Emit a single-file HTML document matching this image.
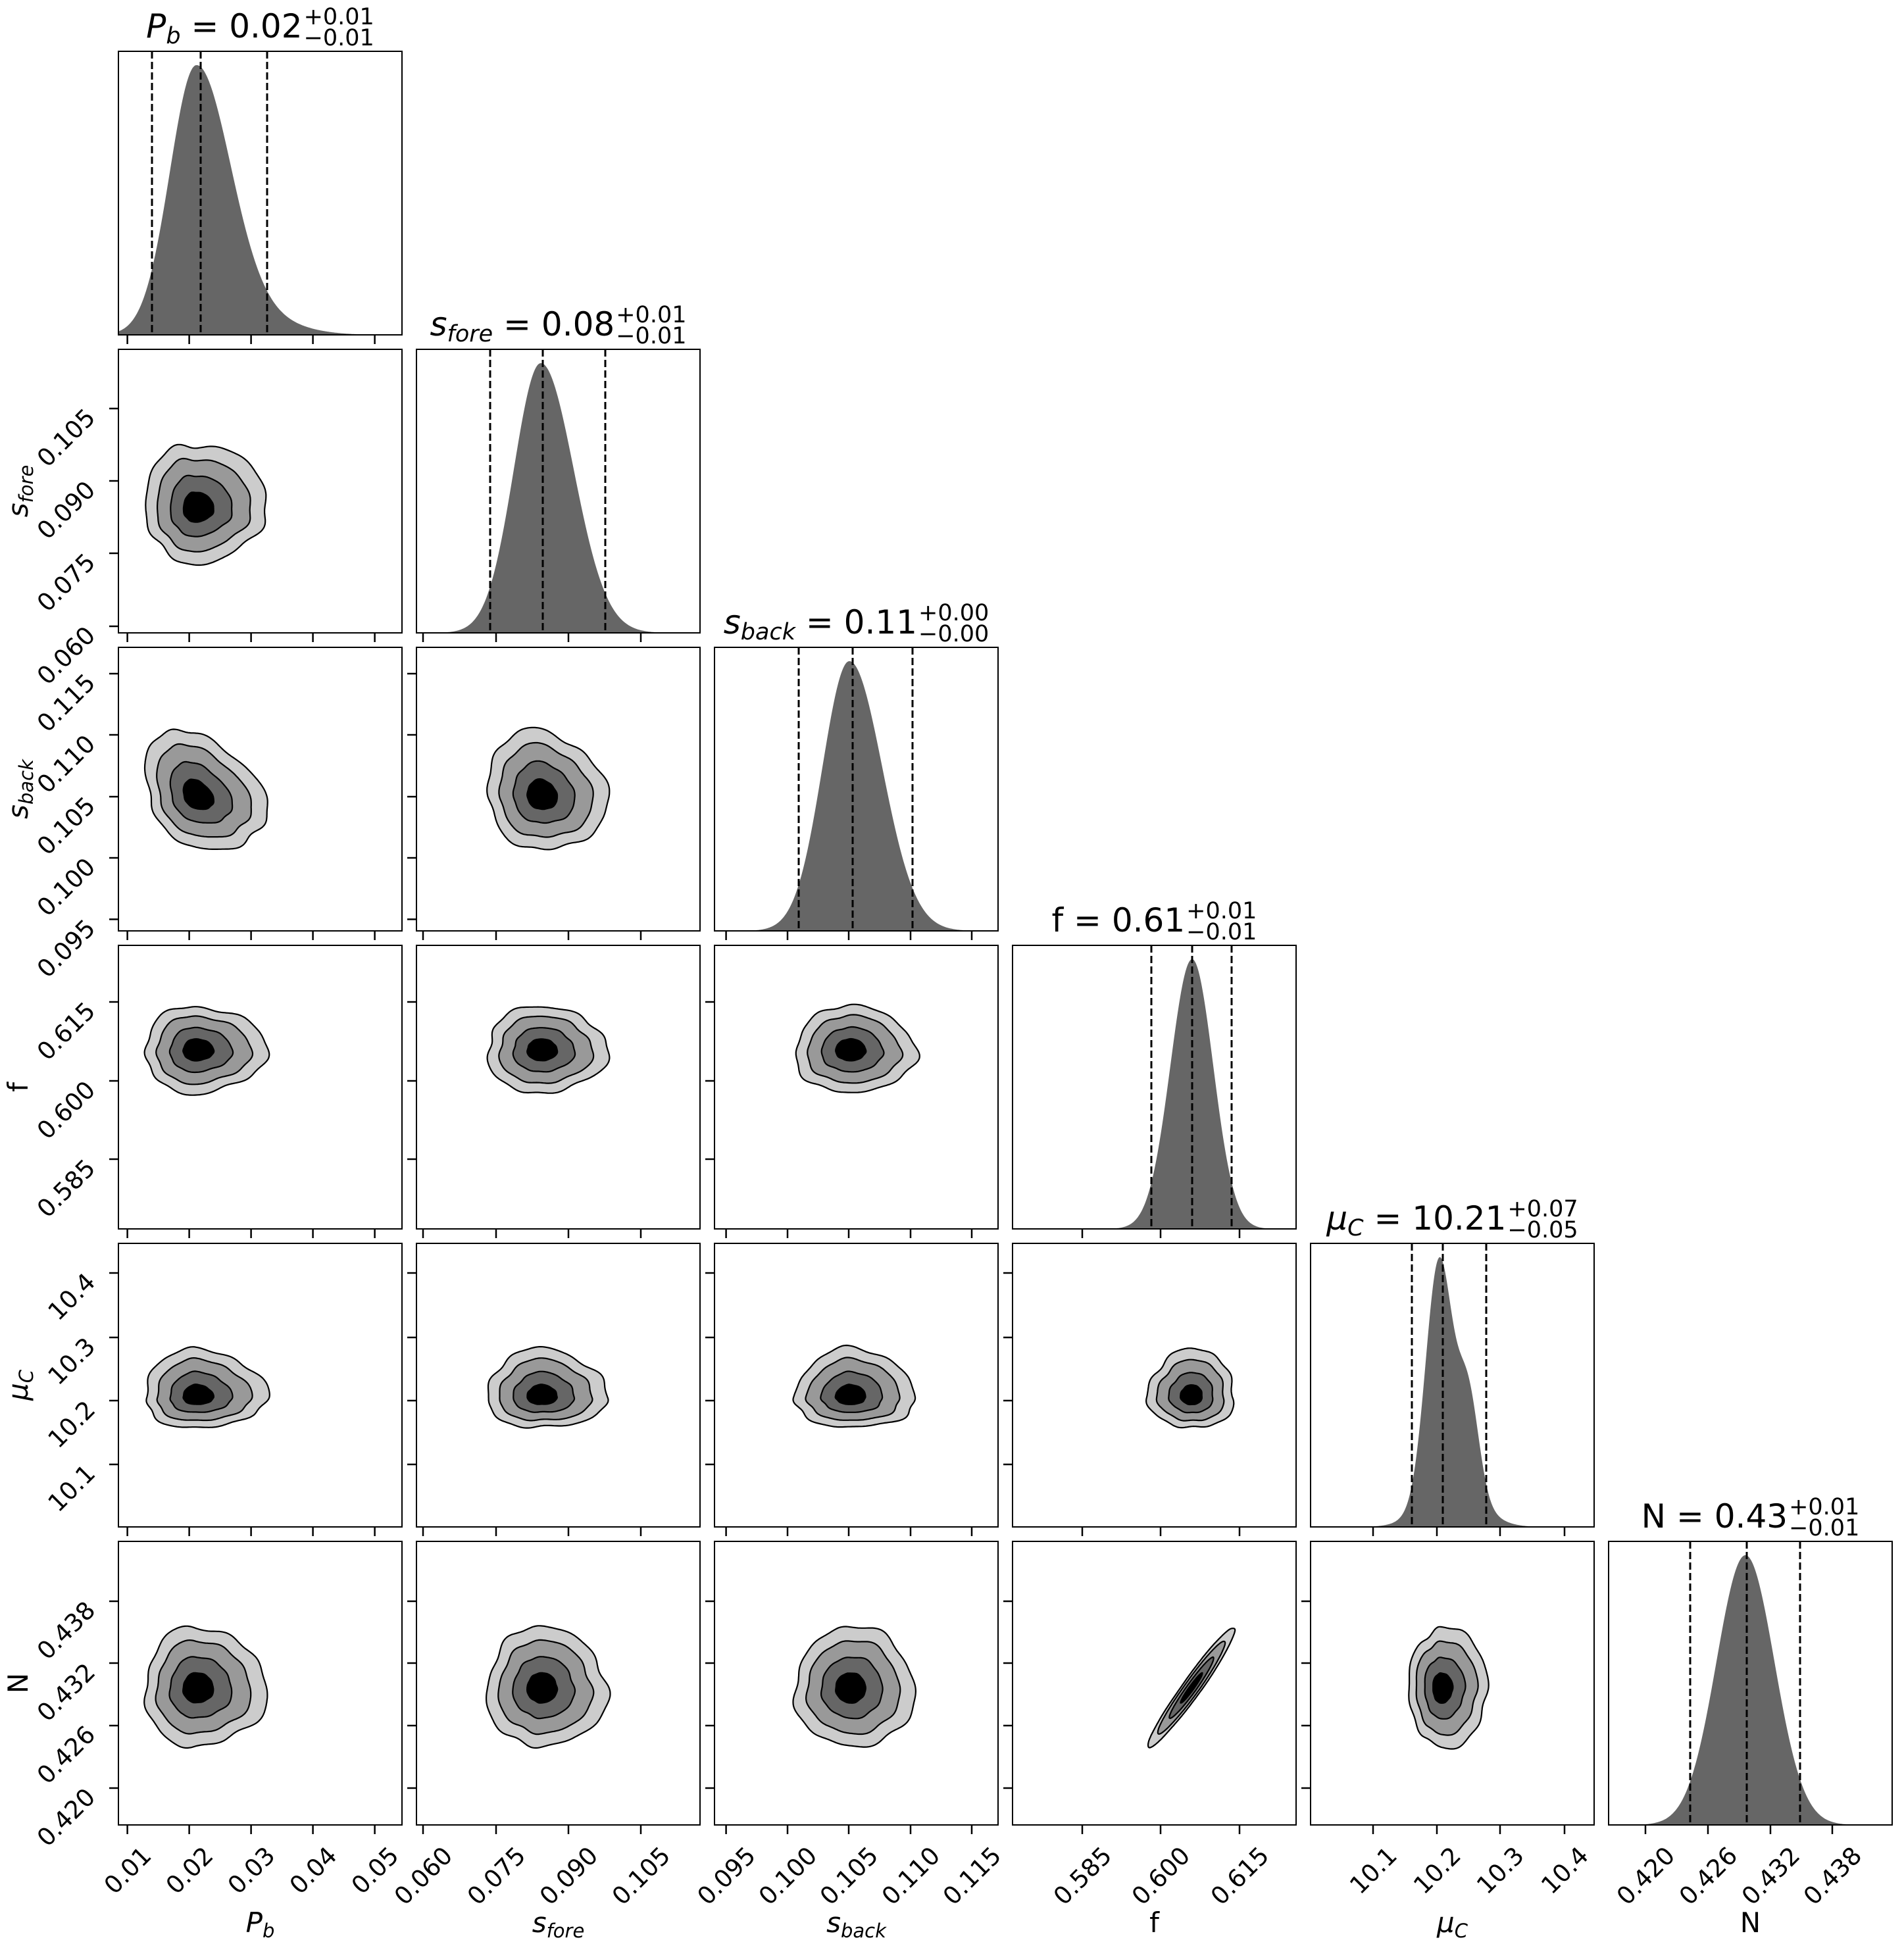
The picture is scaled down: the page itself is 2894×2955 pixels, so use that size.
<!DOCTYPE html>
<html><head><meta charset="utf-8">
<style>
html,body{margin:0;padding:0;background:#fff;}
svg{display:block;font-family:"DejaVu Sans","Liberation Sans",sans-serif;}
</style></head>
<body>
<svg id="s" xmlns="http://www.w3.org/2000/svg" width="2894" height="2955" viewBox="0 0 2894 2955">
<rect x="0" y="0" width="2894" height="2955" fill="#fff"/>
<defs><clipPath id="cp"><rect x="0" y="0" width="431" height="431"/></clipPath></defs>
</svg>
<script>
const NS='http://www.w3.org/2000/svg';
const svg=document.getElementById('s');
function E(t,a,p){const e=document.createElementNS(NS,t);for(const k in a)e.setAttribute(k,a[k]);(p||svg).appendChild(e);return e;}
const S=431,G=453,X0=180,Y0=78;
const cols=[
 {ticks:[[13.6,'0.01'],[107.6,'0.02'],[201.6,'0.03'],[295.6,'0.04'],[389.6,'0.05']],q:[51,125,226],
  comps:[[1,118,40,52],[0.05,215,60,60]],c:[118,39,53],
  main:[['P','i',0],['b','s',0],[' = 0.02','n',0]],sup:'+0.01',sub:'\u22120.01'},
 {ticks:[[10,'0.060'],[121,'0.075'],[231,'0.090'],[341,'0.105']],q:[112,192,287],
  comps:[[1,189,41,50]],c:[189,41,50],
  main:[['s','i',0],['fore','s',0],[' = 0.08','n',0]],sup:'+0.01',sub:'\u22120.01'},
 {ticks:[[17.6,'0.095'],[111,'0.100'],[204,'0.105'],[298,'0.110'],[391,'0.115']],q:[128,210,301],
  comps:[[1,205,41,50]],c:[205,41,50],
  main:[['s','i',0],['back','s',0],[' = 0.11','n',0]],sup:'+0.00',sub:'\u22120.00'},
 {ticks:[[106,'0.585'],[225,'0.600'],[345,'0.615']],q:[211,273,333],
  comps:[[1,273,33,32]],c:[272,33,33],
  main:[['f = 0.61','n',0]],sup:'+0.01',sub:'\u22120.01'},
 {ticks:[[95,'10.1'],[192,'10.2'],[288,'10.3'],[386,'10.4']],q:[154,201,267],
  comps:[[1,195,20,20],[0.42,240,16,16],[0.2,215,40,40]],c:[198,24,36],
  main:[['\u03bc','i',0],['C','s',0],[' = 10.21','n',0]],sup:'+0.07',sub:'\u22120.05'},
 {ticks:[[56,'0.420'],[151,'0.426'],[246,'0.432'],[340,'0.438']],q:[124,210,291],
  comps:[[1,208,44,44]],c:[208,45,46],
  main:[['N = 0.43','n',0]],sup:'+0.01',sub:'\u22120.01'}
];
const rhoM={'5,3':0.965,'2,0':-0.3,'2,1':-0.1};
function hval(c,x){let h=0;for(const [a,m,sl,sr] of c.comps){const s=x<m?sl:sr;h+=a*Math.exp(-0.5*((x-m)/s)**2);}return h;}
function addTspans(t,tokens,fs,sfs,sh){
 let cur=0;
 for(const [txt,kind] of tokens){
  const a={};
  if(kind==='i'){a['font-style']='italic';}
  if(kind==='s'){a['font-style']='italic';a['font-size']=sfs;a.dy=(sh-cur);cur=sh;}
  else {if(cur!==0){a.dy=-cur;cur=0;}}
  const ts=E('tspan',a,t);ts.textContent=txt;
 }
}
const ylab=[null,[['s','i'],['fore','s']],[['s','i'],['back','s']],[['f','n']],[['\u03bc','i'],['C','s']],[['N','n']]];
const xlab=[[['P','i'],['b','s']],[['s','i'],['fore','s']],[['s','i'],['back','s']],[['f','n']],[['\u03bc','i'],['C','s']],[['N','n']]];
const TF=37,LF=42;
function rotLabel(txt,cx,cy){
 const t=E('text',{'font-size':TF,'text-anchor':'middle',transform:`translate(${cx},${cy}) rotate(-45)`,x:0,y:0,dy:'0.36em'});
 t.textContent=txt;return t;
}
function measure(txt){const t=E('text',{'font-size':TF,x:-1000,y:-1000});t.textContent=txt;const L=t.getComputedTextLength();svg.removeChild(t);return L;}
for(let j=0;j<6;j++){
 for(let i=0;i<=j;i++){
  const X=X0+G*i,Y=Y0+G*j;
  const g=E('g',{transform:`translate(${X},${Y})`});
  const gc=E('g',{'clip-path':'url(#cp)'},g);
  const ci=cols[i];
  if(i===j){
   let mx=0;for(let x=0;x<=S;x++)mx=Math.max(mx,hval(ci,x));
   let d='M0,'+S;
   for(let x=0;x<=S;x+=1){d+=' L'+x+','+(S-410*hval(ci,x)/mx).toFixed(1);}
   d+=' L'+S+','+S+' Z';
   E('path',{d:d,fill:'#666666'},gc);
   for(const q of ci.q)E('line',{x1:q,y1:0,x2:q,y2:S,stroke:'#000','stroke-width':3,'stroke-dasharray':'11,5'},gc);
  } else {
   const cj=cols[j];
   const rho=rhoM[j+','+i]||0;
   const cx=ci.c[0],cy=S-cj.c[0];
   const cols4=['#cccccc','#999999','#666666','#000000'];
   const rs=[2,1.55,1.02,0.5];
   const seed=i*7+j*13;
   for(let k=0;k<4;k++){
    const r=rs[k];const amp=(rho>0.9?0.015:0.07)-k*0.01;
    let d='';
    for(let n=0;n<=240;n++){
     const th=2*Math.PI*n/240;
     const u=Math.cos(th),v=rho*Math.cos(th)+Math.sqrt(1-rho*rho)*Math.sin(th);
     const nz=1+amp*(0.5*Math.sin(3*th+seed+k*0.4)+0.35*Math.sin(5*th+seed*1.7)+0.25*Math.sin(8*th+seed*2.3)+0.2*Math.sin(11*th+seed*0.9));
     const x=cx+(u>0?ci.c[2]:ci.c[1])*r*u*nz;
     const y=cy-(v>0?cj.c[2]:cj.c[1])*r*v*nz;
     d+=(n?' L':'M')+x.toFixed(1)+','+y.toFixed(1);
    }
    d+=' Z';
    E('path',{d:d,fill:cols4[k],stroke:'#000','stroke-width':2.2},gc);
   }
   for(const [t] of cj.ticks)E('line',{x1:-14,y1:S-t,x2:0,y2:S-t,stroke:'#000','stroke-width':2.5},g);
  }
  E('rect',{x:0,y:0,width:S,height:S,fill:'none',stroke:'#000','stroke-width':2},g);
  for(const [t] of ci.ticks)E('line',{x1:t,y1:S,x2:t,y2:S+14,stroke:'#000','stroke-width':2.5},g);
 }
}
const h=0.73*TF;
for(let i=0;i<6;i++){
 const X=X0+G*i;
 for(const [t,l] of cols[i].ticks){
  const W=(measure(l)+h)*0.7071;
  rotLabel(l,X+t,2804+W/2);
 }
 const tx=E('text',{'font-size':LF,'text-anchor':'middle',x:X+S/2,y:2937});
 addTspans(tx,xlab[i],LF,29,8);
}
for(let j=1;j<6;j++){
 const Y=Y0+G*j;
 for(const [t,l] of cols[j].ticks){
  const W=(measure(l)+h)*0.7071;
  rotLabel(l,147-W/2,Y+(S-t)-3+W/2);
 }
 const ty=E('text',{'font-size':LF,'text-anchor':'middle',transform:`translate(42,${Y+S/2}) rotate(-90)`,x:0,y:0});
 addTspans(ty,ylab[j],LF,29,8);
}
for(let i=0;i<6;i++){
 const c=cols[i];
 const X=X0+G*i,Y=Y0+G*i;
 const base=Y-21;
 const t=E('text',{'font-size':50,x:0,y:base});
 addTspans(t,c.main,50,35,9);
 const w=t.getComputedTextLength();
 const sp=E('text',{'font-size':35,x:0,y:base-20});sp.textContent=c.sup;
 const sb=E('text',{'font-size':35,x:0,y:base+12});sb.textContent=c.sub;
 const sw=Math.max(sp.getComputedTextLength(),sb.getComputedTextLength());
 const x0=X+S/2-(w+2+sw)/2;
 t.setAttribute('x',x0);
 sp.setAttribute('x',x0+w+2);sb.setAttribute('x',x0+w+2);
}
</script>
</body></html>
